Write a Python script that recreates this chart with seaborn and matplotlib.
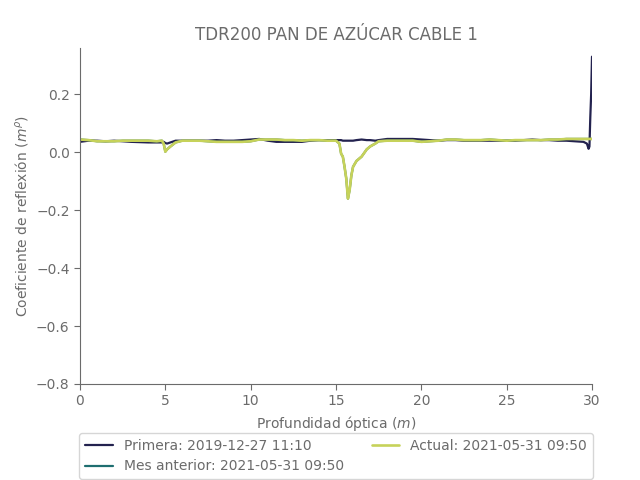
import matplotlib
matplotlib.use("Agg")
import matplotlib.pyplot as plt
import seaborn as sns
import pandas as pd

# Depth (m)
depth = [0.0, 0.5, 1.0, 1.5, 2.0, 2.5, 3.0, 3.5, 4.0, 4.5, 4.8, 4.9, 5.0, 5.1, 5.3,
         5.6, 6.0, 6.5, 7.0, 7.5, 8.0, 8.5, 9.0, 9.5, 10.0, 10.5, 11.0, 11.5, 12.0,
         12.5, 13.0, 13.5, 14.0, 14.5, 15.0, 15.2, 15.3, 15.4, 15.5, 15.6, 15.7, 15.8,
         15.9, 16.0, 16.2, 16.5, 16.8, 17.0, 17.3, 17.5, 18.0, 18.5, 19.0, 19.5, 20.0,
         20.5, 21.0, 21.5, 22.0, 22.5, 23.0, 23.5, 24.0, 24.5, 25.0, 25.5, 26.0, 26.5,
         27.0, 27.5, 28.0, 28.5, 29.0, 29.5, 29.7, 29.8, 29.85, 29.9, 29.95, 30.0]

primera = [0.036, 0.040, 0.040, 0.038, 0.040, 0.038, 0.036, 0.035, 0.034, 0.034, 0.034, 0.036, 0.032, 0.030, 0.034,
           0.040, 0.040, 0.040, 0.040, 0.040, 0.042, 0.040, 0.040, 0.042, 0.044, 0.046, 0.040, 0.036, 0.036,
           0.036, 0.036, 0.040, 0.042, 0.042, 0.042, 0.042, 0.042, 0.040, 0.040, 0.040, 0.040, 0.040,
           0.040, 0.040, 0.042, 0.044, 0.042, 0.042, 0.040, 0.042, 0.046, 0.046, 0.046, 0.046, 0.044,
           0.042, 0.040, 0.042, 0.042, 0.040, 0.040, 0.040, 0.040, 0.040, 0.040, 0.040, 0.042, 0.044,
           0.042, 0.042, 0.040, 0.040, 0.038, 0.036, 0.030, 0.012, 0.020, 0.120, 0.200, 0.330]

mes_anterior = [0.044, 0.042, 0.038, 0.038, 0.038, 0.040, 0.040, 0.040, 0.040, 0.038, 0.040, 0.030, 0.002, 0.010, 0.020,
                0.034, 0.040, 0.040, 0.040, 0.038, 0.036, 0.036, 0.036, 0.036, 0.038, 0.044, 0.044, 0.044, 0.042,
                0.042, 0.040, 0.042, 0.042, 0.040, 0.040, 0.030, -0.005, -0.015, -0.050, -0.090, -0.160, -0.130,
                -0.080, -0.050, -0.030, -0.015, 0.010, 0.020, 0.030, 0.038, 0.040, 0.040, 0.040, 0.040, 0.036,
                0.038, 0.040, 0.044, 0.044, 0.042, 0.042, 0.042, 0.044, 0.042, 0.040, 0.042, 0.042, 0.042,
                0.042, 0.044, 0.044, 0.046, 0.046, 0.046, 0.046, 0.046, 0.046, 0.046, 0.046, 0.046]

actual = list(mes_anterior)

labels = ["Primera: 2019-12-27 11:10", "Mes anterior: 2021-05-31 09:50", "Actual: 2021-05-31 09:50"]
colors = ["#23224f", "#1e6e70", "#c6d25a"]
widths = [1.6, 1.6, 1.9]

df = pd.concat([
    pd.DataFrame({"depth": depth, "value": primera, "serie": labels[0]}),
    pd.DataFrame({"depth": depth, "value": mes_anterior, "serie": labels[1]}),
    pd.DataFrame({"depth": depth, "value": actual, "serie": labels[2]}),
])

sns.set_style("white")
plt.rcParams["font.family"] = ["DejaVu Sans"]
grey = "#6b6b6b"

fig, ax = plt.subplots(figsize=(6.4, 4.8), dpi=100)
fig.subplots_adjust(left=0.125, right=0.925, top=0.9, bottom=0.2)

for lab, col, lw in zip(labels, colors, widths):
    sub = df[df["serie"] == lab]
    sns.lineplot(data=sub, x="depth", y="value", ax=ax, color=col, linewidth=lw,
                 label=lab, estimator=None, sort=False)

ax.set_xlim(0, 30)
ax.set_ylim(-0.8, 0.36)
ax.set_yticks([-0.8, -0.6, -0.4, -0.2, 0.0, 0.2])
ax.set_xticks([0, 5, 10, 15, 20, 25, 30])
ax.set_title("TDR200 PAN DE AZÚCAR CABLE 1", color=grey, fontsize=12)
ax.set_xlabel("Profundidad óptica ($m$)", color=grey, fontsize=10)
ax.set_ylabel("Coeficiente de reflexión ($m^{\\rho}$)", color=grey, fontsize=10)
ax.tick_params(colors=grey, labelsize=10, length=4, width=0.8, left=True, bottom=True)
sns.despine(ax=ax, top=True, right=True)
for s in ["left", "bottom"]:
    ax.spines[s].set_color(grey)
    ax.spines[s].set_linewidth(0.8)

handles, labs = ax.get_legend_handles_labels()
leg = ax.legend(handles, labs, loc="upper center", bbox_to_anchor=(0.5, -0.125), ncol=2,
                frameon=True, fontsize=10, labelcolor=grey)

fig.savefig("out.png", dpi=100)
